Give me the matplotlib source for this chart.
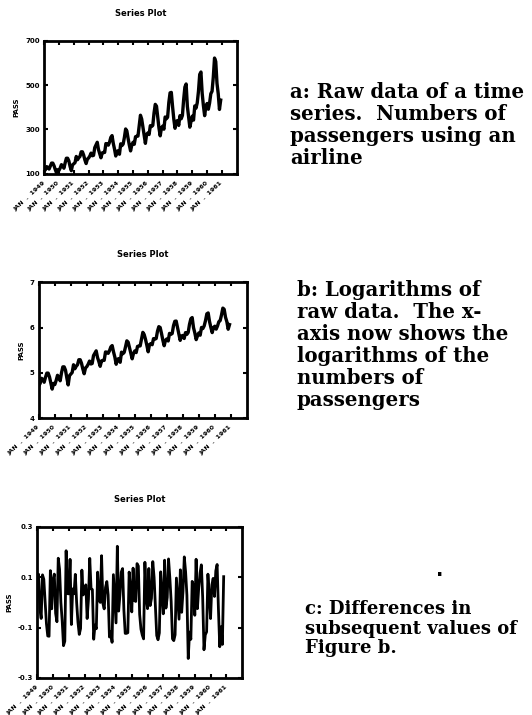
import numpy as np
from matplotlib import pyplot as plt

# monthly airline passengers, Jan 1949 - Dec 1960
passengers = [
    112, 118, 132, 129, 121, 135, 148, 148, 136, 119, 104, 118,
    115, 126, 141, 135, 125, 149, 170, 170, 158, 133, 114, 140,
    145, 150, 178, 163, 172, 178, 199, 199, 184, 162, 146, 166,
    171, 180, 193, 181, 183, 218, 230, 242, 209, 191, 172, 194,
    196, 196, 236, 235, 229, 243, 264, 272, 237, 211, 180, 201,
    204, 188, 235, 227, 234, 264, 302, 293, 259, 229, 203, 229,
    242, 233, 267, 269, 270, 315, 364, 347, 312, 274, 237, 278,
    284, 277, 317, 313, 318, 374, 413, 405, 355, 306, 271, 306,
    315, 301, 356, 348, 355, 422, 465, 467, 404, 347, 305, 336,
    340, 318, 362, 348, 363, 435, 491, 505, 404, 359, 310, 337,
    360, 342, 406, 396, 420, 472, 548, 559, 463, 407, 362, 405,
    417, 391, 419, 461, 472, 535, 622, 606, 508, 461, 390, 432,
]
years = list(range(1949, 1962))
xtick_labels = ['JAN  .  %d' % y for y in years]

raw = np.array(passengers, dtype=float)
logs = np.log(raw)
diffs = np.diff(logs)

panels = [
    # (series, ylim, yticks, yticklabels, axes rect, line width)
    (raw, (100, 700), [100, 300, 500, 700], ['100', '300', '500', '700'],
     [0.083, 0.757, 0.362, 0.186], 2.4),
    (logs, (4, 7), [4, 5, 6, 7], ['4', '5', '6', '7'],
     [0.073, 0.415, 0.391, 0.190], 2.4),
    (diffs, (-0.3, 0.3), [-0.3, -0.1, 0.1, 0.3], ['-0.3', '-0.1', '0.1', '0.3'],
     [0.070, 0.052, 0.385, 0.211], 2.0),
]

texts = [
    (0.545, 0.885, 14.2, "a: Raw data of a time\nseries.  Numbers of\npassengers using an\nairline"),
    (0.558, 0.608, 14.2, "b: Logarithms of\nraw data.  The x-\naxis now shows the\nlogarithms of the\nnumbers of\npassengers"),
    (0.574, 0.161, 13.0, "c: Differences in\nsubsequent values of\nFigure b."),
]

fig = plt.figure(figsize=(5.32, 7.15), dpi=100)

for series, ylim, yt, ytl, rect, lw in panels:
    ax = fig.add_axes(rect)
    x = np.arange(len(series))
    ax.plot(x, series, color='black', lw=lw)
    ax.set_xlim(0, 156)
    ax.set_ylim(*ylim)
    ax.set_yticks(yt)
    ax.set_yticklabels(ytl, fontsize=5, fontweight='bold')
    ax.set_xticks(np.arange(0, 145, 12))
    ax.set_xticklabels(xtick_labels, fontsize=4.5, fontweight='bold',
                       rotation=43, rotation_mode='anchor', ha='right', va='center')
    ax.tick_params(direction='in', top=True, right=True, width=1.5, length=3, pad=3)
    ax.tick_params(axis='x', pad=6)
    for s in ax.spines.values():
        s.set_linewidth(2)
    ax.set_ylabel('PASS', fontsize=5, fontweight='bold', labelpad=4)
    ax.set_title('Series Plot', fontsize=6, fontweight='bold', pad=18)

for tx, ty, fs, s in texts:
    fig.text(tx, ty, s, fontsize=fs, fontweight='bold', family='DejaVu Serif',
             va='top', ha='left', linespacing=1.12)

fig.text(0.82, 0.195, '.', fontsize=14, fontweight='bold')

fig.savefig('out.png', dpi=100)
